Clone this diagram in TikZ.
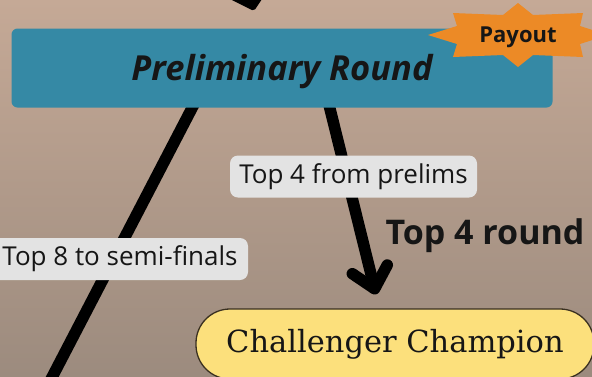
\documentclass[tikz,border=0pt]{standalone}
\usepackage{fontspec}
\setmainfont{Open Sans}
\newfontfamily\slabfont{DejaVu Serif}
\usetikzlibrary{arrows.meta}
\definecolor{bgtop}{HTML}{C5A996}
\definecolor{bgbot}{HTML}{9C8B7E}
\definecolor{tealbox}{HTML}{3589A5}
\definecolor{payorange}{HTML}{EC8A26}
\definecolor{labgrey}{HTML}{E3E3E3}
\definecolor{champyellow}{HTML}{FCE07C}
\definecolor{champedge}{HTML}{3A3020}
\definecolor{inkdark}{HTML}{161616}
\pgfdeclarelayer{bglayer}
\pgfdeclarelayer{linelayer}
\pgfsetlayers{bglayer,linelayer,main}
\tikzset{
  prelimbox/.style={rectangle, rounded corners=6pt, fill=tealbox, minimum width=541pt, minimum height=79pt, inner sep=0pt, text height=26pt, text depth=8pt, text=inkdark, font=\fontsize{34.5}{40}\selectfont\bfseries\itshape},
  labelbox/.style={rectangle, rounded corners=8pt, fill=labgrey, minimum height=42pt, inner sep=0pt, text=inkdark, font=\fontsize{26}{30}\selectfont},
  champbox/.style={rectangle, rounded corners=34pt, fill=champyellow, draw=champedge, line width=1.3pt, minimum width=398pt, minimum height=70pt, inner sep=0pt, text=inkdark, font=\slabfont\fontsize{30.5}{36}\selectfont},
  boldtext/.style={inner sep=0pt, text=inkdark, font=\fontsize{34}{40}\selectfont\bfseries},
  paytext/.style={inner sep=0pt, text height=16pt, text depth=5pt, text=inkdark, font=\fontsize{22}{26}\selectfont\bfseries},
  thickline/.style={line width=11.5pt, draw=black},
  arrowline/.style={line width=11.5pt, draw=black, line cap=round, -{Straight Barb[length=20pt,width=36pt,line cap=round,line join=round]}},
}
\begin{document}
\begin{tikzpicture}[x=1pt,y=-1pt]
\clip (0,0) rectangle (592,376);
\begin{pgfonlayer}{bglayer}
\shade[top color=bgtop, bottom color=bgbot] (0,0) rectangle (592,376);
\end{pgfonlayer}

\node[prelimbox] (prelim) at (282,68) {\raisebox{-3.5pt}{Preliminary Round}};

% payout starburst
\coordinate (pc) at (518,35);
\fill[payorange] ([shift={(-65,-22)}]pc) -- ([shift={(-15,-20)}]pc) -- ([shift={(0,-32)}]pc)
  -- ([shift={(15,-20)}]pc) -- ([shift={(65,-22)}]pc) -- ([shift={(62,-9)}]pc)
  -- ([shift={(90,0)}]pc) -- ([shift={(62,9)}]pc) -- ([shift={(65,22)}]pc)
  -- ([shift={(15,20)}]pc) -- ([shift={(0,32)}]pc) -- ([shift={(-15,20)}]pc)
  -- ([shift={(-65,22)}]pc) -- ([shift={(-61,9)}]pc) -- ([shift={(-90,0)}]pc)
  -- ([shift={(-61,-9)}]pc) -- cycle;
\node[paytext] (payout) at (pc) {\raisebox{-1.5pt}{Payout}};

\node[labelbox, minimum width=247pt] (lab4) at (353.5,176.5) {Top 4 from prelims};
\node[labelbox, minimum width=256pt] (lab8) at (120,259) {Top 8 to semi-finals};
\node[boldtext] (t4r) at (485,236) {Top 4 round};
\node[champbox] (champ) at (395,344) {Challenger Champion};

\coordinate (offleft) at (35,410);
\coordinate (topin) at (244,-20);

\begin{pgfonlayer}{linelayer}
\draw[thickline] ([xshift=-82pt,yshift=15pt]prelim.south) -- (offleft);
\draw[arrowline] ([xshift=44pt,yshift=15pt]prelim.south) -- ([xshift=-19pt,yshift=14pt]champ.north);
\fill[black, rounded corners=2pt] ([shift={(-20,16)}]topin) -- ([shift={(20,16)}]topin) -- ([shift={(10,31)}]topin) -- cycle;
\end{pgfonlayer}
\end{tikzpicture}
\end{document}
